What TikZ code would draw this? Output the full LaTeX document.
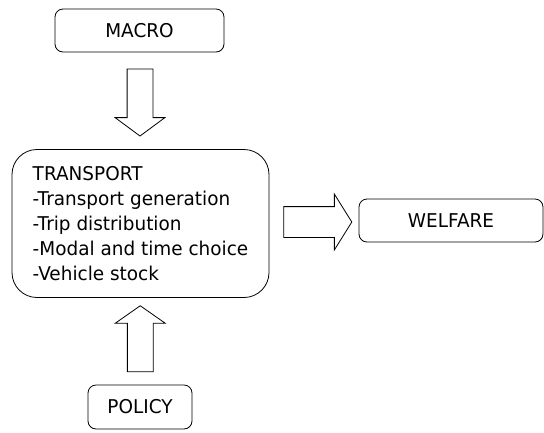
\documentclass[tikz,border=0pt]{standalone}
\usepackage{fontspec}
\setmainfont{DejaVu Sans}[FakeStretch=0.97]
\usepackage{tikz}
\usetikzlibrary{shapes.arrows, positioning, calc}

\begin{document}
\begin{tikzpicture}[x=1pt, y=-1pt,
    box/.style={draw=black, line width=0.8pt, rounded corners=8pt, inner sep=0pt,
                font=\fontsize{19}{25}\selectfont},
    blockarrow/.style={draw=black, line width=0.8pt, single arrow, inner xsep=0pt,
                inner ysep=12.5pt, single arrow head extend=12pt},
    vertarrow/.style={blockarrow, inner xsep=12.5pt, inner ysep=0pt}]
        \useasboundingbox (0,0) rectangle (544,432);
        \node[box, minimum width=169pt, minimum height=43pt] (macro) at (139.5,30.5) {MACRO};
        \node[box, rounded corners=25pt, minimum width=257pt, minimum height=148pt,
              align=left] (transport) at (140.5,223.5) {
            TRANSPORT\\
            -Transport generation\\
            -Trip distribution\\
            -Modal and time choice\\
            -Vehicle stock
        };
        \node[box, minimum width=184pt, minimum height=43pt] (welfare) at (451,220.5) {WELFARE};
        \node[box, minimum width=104pt, minimum height=44pt] (policy) at (140,407) {POLICY};
        % block arrows between the boxes
        \node[vertarrow, shape border rotate=270, minimum height=67pt, single arrow tip angle=107,
              yshift=3pt] (down) at ($(macro.south)!0.5!(transport.north)$) {};
        \node[vertarrow, shape border rotate=90, minimum height=66pt, single arrow tip angle=110,
              yshift=-2pt] (up) at ($(transport.south)!0.5!(policy.north)$) {};
        \node[blockarrow, minimum height=68pt, inner ysep=15pt, single arrow head extend=12.5pt,
              single arrow tip angle=116, xshift=-1pt] (right) at ($(transport.east)!0.5!(welfare.west)$) {};
    \end{tikzpicture}
\end{document}
